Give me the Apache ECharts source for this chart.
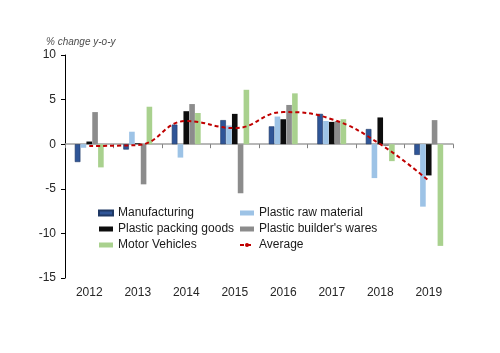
<!DOCTYPE html>
<html>
<head>
<meta charset="utf-8">
<script src="https://cdn.jsdelivr.net/npm/echarts@6/dist/echarts.min.js"></script>
<style>
  html, body { margin: 0; padding: 0; background: #fff; }
  #chart { width: 500px; height: 353px; }
</style>
</head>
<body>
<div id="chart"></div>
<script>
// values (% change y-o-y)
const years = ['2012', '2013', '2014', '2015', '2016', '2017', '2018', '2019'];
const manufacturing = [-2.0, -0.6, 2.2, 2.7, 2.0, 3.4, 1.7, -1.2];
const rawMaterial = [-0.4, 1.4, -1.5, 2.1, 3.1, 2.6, -3.8, -7.0];
const packingGoods = [0.3, 0.1, 3.7, 3.4, 2.8, 2.5, 3.0, -3.5];
const buildersWares = [3.6, -4.5, 4.5, -5.5, 4.4, 2.6, -0.2, 2.7];
const motorVehicles = [-2.6, 4.2, 3.5, 6.1, 5.7, 2.8, -1.9, -11.4];
const average = [-0.2, -0.1, 2.6, 1.8, 3.6, 2.8, 0.0, -4.1];
const yTicks = { min: -15, max: 10, step: 5 };

const chart = echarts.init(document.getElementById('chart'));
const font = 'Liberation Sans';

const bar = (name, data, color, border) => ({
  name: name,
  type: 'bar',
  data: data,
  barWidth: 5.6,
  barGap: '4%',
  itemStyle: { color: color, borderColor: border || color, borderWidth: border ? 0.6 : 0 }
});

const legendBase = {
  orient: 'vertical',
  top: 207,
  padding: 0,
  itemWidth: 14,
  itemHeight: 5,
  itemGap: 4,
  textStyle: { fontSize: 12, color: '#1a1a1a', fontFamily: font }
};

chart.setOption({
  animation: false,
  textStyle: { fontFamily: font },
  title: {
    text: '% change y-o-y',
    left: 46,
    top: 37,
    padding: 0,
    textStyle: { fontSize: 10, fontStyle: 'italic', fontWeight: 'normal', color: '#4d4d4d', fontFamily: font }
  },
  grid: { left: 65, right: 47, top: 55, bottom: 75 },
  legend: [
    Object.assign({}, legendBase, {
      left: 98,
      data: [
        { name: 'Manufacturing', icon: 'rect' },
        { name: 'Plastic packing goods', icon: 'rect' },
        { name: 'Motor Vehicles', icon: 'rect' }
      ]
    }),
    Object.assign({}, legendBase, {
      left: 239,
      data: [
        { name: 'Plastic raw material', icon: 'rect' },
        { name: "Plastic builder's wares", icon: 'rect' },
        'Average'
      ]
    })
  ],
  xAxis: [
    {
      type: 'category',
      data: years,
      position: 'bottom',
      axisLine: { show: false, onZero: false },
      axisTick: { show: false },
      axisLabel: { fontSize: 12, color: '#262626', margin: 9 }
    },
    {
      type: 'category',
      data: years,
      position: 'bottom',
      axisLine: { show: true, onZero: true, lineStyle: { color: '#a0a0a0', width: 1.5 } },
      axisTick: { show: true, length: 4, lineStyle: { color: '#808080' } },
      axisLabel: { show: false }
    }
  ],
  yAxis: {
    type: 'value',
    min: yTicks.min,
    max: yTicks.max,
    interval: yTicks.step,
    axisLine: { show: true, lineStyle: { color: '#000', width: 1 } },
    axisTick: { show: true, length: 4, lineStyle: { color: '#000' } },
    splitLine: { show: false },
    axisLabel: { fontSize: 12, color: '#262626', margin: 9 }
  },
  series: [
    bar('Manufacturing', manufacturing, '#2f5597', '#1f3864'),
    bar('Plastic raw material', rawMaterial, '#9dc3e6'),
    bar('Plastic packing goods', packingGoods, '#0d0d0d'),
    bar("Plastic builder's wares", buildersWares, '#8c8c8c'),
    bar('Motor Vehicles', motorVehicles, '#a9d18e'),
    {
      name: 'Average',
      type: 'line',
      data: average,
      smooth: 0.45,
      symbol: 'none',
      z: 5,
      lineStyle: { color: '#c00000', width: 2, type: [4, 3] },
      itemStyle: { color: '#c00000' }
    }
  ]
});
</script>
</body>
</html>
